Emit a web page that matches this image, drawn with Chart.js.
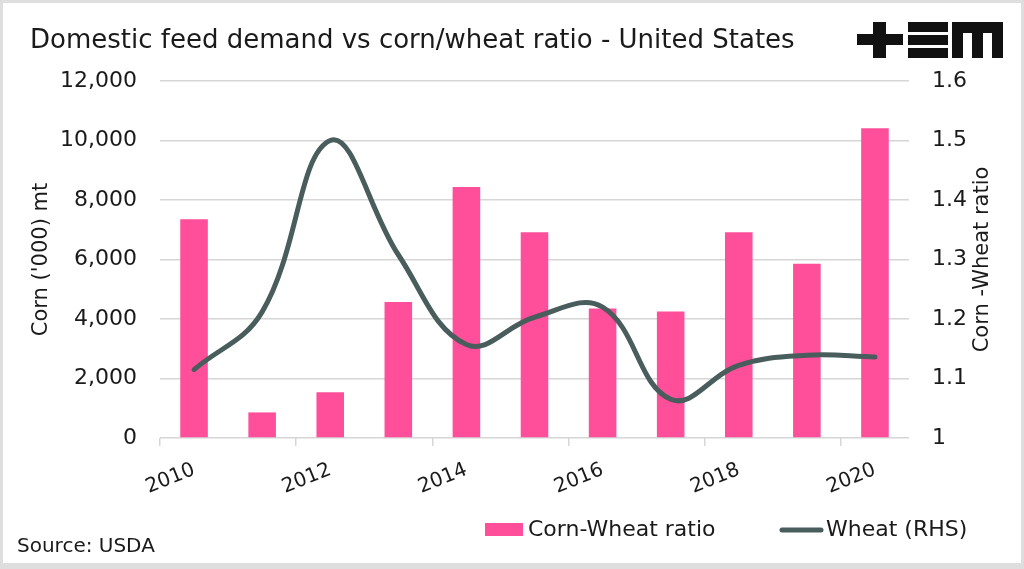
<!DOCTYPE html>
<html>
<head>
<meta charset="utf-8">
<script src="https://cdn.jsdelivr.net/npm/chart.js@4.4.1/dist/chart.umd.min.js"></script>
<style>
  html, body { margin: 0; padding: 0; background: #fff; }
  canvas { display: block; }
</style>
</head>
<body>
<canvas id="chart1" width="1024" height="569" style="width:1024px;height:569px"></canvas>
<script>
var years = ["2010", "2011", "2012", "2013", "2014", "2015", "2016", "2017", "2018", "2019", "2020"];
var cornValues = [7350, 860, 1540, 4570, 8440, 6920, 4350, 4250, 6920, 5860, 10410];
var wheatValues = [1.115, 1.212, 1.5, 1.308, 1.157, 1.203, 1.22, 1.065, 1.122, 1.139, 1.136];
var leftTicks = { min: 0, max: 12000, step: 2000 };
var rightTicks = { min: 1, max: 1.6, step: 0.1 };

var PINK = "#FF4F9B";
var SLATE = "#4A5D5D";
var GRID = "#d6d6d6";
var TEXT = "#1a1a1a";
var FONT = "'DejaVu Sans', sans-serif";

Chart.defaults.font.family = FONT;
Chart.defaults.color = TEXT;

// frame, title, logo, legend, right axis title and source line
var decor = {
    id: "decor",
    beforeDraw: function (chart) {
        var c = chart.ctx;
        c.save();
        c.fillStyle = "#fff";
        c.fillRect(0, 0, chart.width, chart.height);
        c.restore();
    },
    afterDraw: function (chart) {
        var c = chart.ctx;
        c.save();
        c.fillStyle = TEXT;
        c.textBaseline = "alphabetic";
        c.textAlign = "left";
        c.font = "26px " + FONT;
        c.fillText("Domestic feed demand vs corn/wheat ratio - United States", 30, 48, 795);

        c.font = "20px " + FONT;
        c.fillText("Source: USDA", 17, 552);

        // right axis title, reading bottom to top
        var y1 = chart.scales.y1;
        c.save();
        c.translate(983, (y1.top + y1.bottom) / 2);
        c.rotate(-Math.PI / 2);
        c.textAlign = "center";
        c.textBaseline = "middle";
        c.font = "21px " + FONT;
        c.fillText("Corn -Wheat ratio", 0, 0);
        c.restore();

        // logo
        c.fillStyle = "#111";
        c.fillRect(857, 34, 46, 11);
        c.fillRect(873, 22, 13, 36);
        c.fillRect(908, 22, 40, 10);
        c.fillRect(908, 35, 40, 10);
        c.fillRect(908, 48, 40, 10);
        c.fillRect(952, 22, 51, 11);
        c.fillRect(952, 22, 11, 36);
        c.fillRect(972, 22, 11, 36);
        c.fillRect(992, 22, 11, 36);

        // legend
        var ds = chart.data.datasets;
        c.font = "22px " + FONT;
        c.fillStyle = ds[0].backgroundColor;
        c.fillRect(485, 523, 38, 13);
        c.fillStyle = TEXT;
        c.fillText(ds[0].label, 528, 536);
        c.strokeStyle = ds[1].borderColor;
        c.lineWidth = 5;
        c.lineCap = "round";
        c.beginPath();
        c.moveTo(782, 530);
        c.lineTo(821, 530);
        c.stroke();
        c.fillText(ds[1].label, 826, 536);

        // outer frame
        c.fillStyle = "#dedede";
        c.fillRect(0, 0, chart.width, 3);
        c.fillRect(0, 0, 3, chart.height);
        c.fillRect(chart.width - 3, 0, 3, chart.height);
        c.fillRect(0, chart.height - 6, chart.width, 6);
        c.restore();
    }
};

var ctx = document.getElementById("chart1").getContext("2d");
var myChart = new Chart(ctx, {
    type: "bar",
    data: {
        labels: years,
        datasets: [
            {
                label: "Corn-Wheat ratio",
                data: cornValues,
                backgroundColor: PINK,
                borderWidth: 0,
                barPercentage: 0.405,
                categoryPercentage: 1,
                yAxisID: "y",
                order: 1,
            },
            {
                type: "line",
                label: "Wheat (RHS)",
                data: wheatValues,
                borderColor: SLATE,
                backgroundColor: SLATE,
                borderWidth: 5,
                borderCapStyle: "round",
                tension: 0.4,
                pointRadius: 0,
                fill: false,
                yAxisID: "y1",
                order: 0,
            },
        ],
    },
    options: {
        responsive: false,
        animation: false,
        devicePixelRatio: 1,
        layout: { padding: { top: 81, left: 0, right: 0, bottom: 0 } },
        plugins: {
            legend: { display: false },
            title: { display: false },
            tooltip: { enabled: false },
        },
        scales: {
            x: {
                grid: {
                    drawOnChartArea: false,
                    drawTicks: true,
                    tickLength: 8,
                    offset: true,
                    lineWidth: 1.5,
                    color: function (context) {
                        return context.index % 2 === 0 ? GRID : "rgba(0,0,0,0)";
                    },
                },
                border: { display: false },
                ticks: {
                    autoSkip: false,
                    minRotation: 22,
                    maxRotation: 22,
                    padding: 12,
                    font: { size: 20 },
                    callback: function (value, index) {
                        return index % 2 === 0 ? this.getLabelForValue(value) : "";
                    },
                },
                afterFit: function (scale) {
                    scale.height = 131;
                },
            },
            y: {
                position: "left",
                min: leftTicks.min,
                max: leftTicks.max,
                grid: { color: GRID, lineWidth: 1.5, drawTicks: false },
                border: { display: false },
                ticks: {
                    stepSize: leftTicks.step,
                    padding: 23,
                    font: { size: 22 },
                    callback: function (v) {
                        return v.toLocaleString("en-US");
                    },
                },
                title: {
                    display: true,
                    text: "Corn ('000) mt",
                    font: { size: 21 },
                    padding: { top: 29, bottom: 0 },
                },
                afterFit: function (scale) {
                    scale.width = 160;
                },
            },
            y1: {
                position: "right",
                min: rightTicks.min,
                max: rightTicks.max,
                grid: { display: false, drawTicks: false },
                border: { display: false },
                ticks: {
                    stepSize: rightTicks.step,
                    padding: 23,
                    font: { size: 22 },
                    callback: function (v) {
                        return String(Math.round(v * 10) / 10);
                    },
                },
                afterFit: function (scale) {
                    scale.width = 115;
                },
            },
        },
    },
    plugins: [decor],
});
</script>
</body>
</html>
